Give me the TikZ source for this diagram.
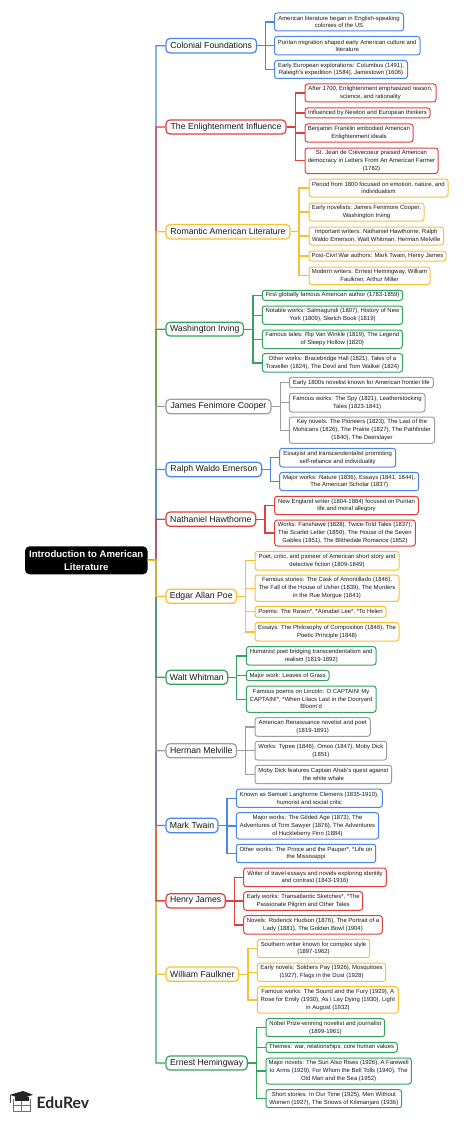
\documentclass[tikz,border=0pt]{standalone}
\usepackage{fontspec}
\setmainfont{Liberation Sans}
\newfontfamily\logofont{Lato}
\definecolor{cblue}{HTML}{4A86E8}
\definecolor{cred}{HTML}{E0403C}
\definecolor{cyel}{HTML}{FBC02D}
\definecolor{cgrn}{HTML}{34A35C}
\definecolor{cgry}{HTML}{9E9E9E}
\tikzset{
  boxbase/.style={rounded corners=2.6pt,inner sep=0pt,align=center,text=black!90,fill=white},
  leafbox/.style={boxbase,line width=1pt,font=\fontsize{5.95}{7.7}\selectfont},
  branchbox/.style={boxbase,line width=1.2pt,rounded corners=4pt,font=\fontsize{8.7}{11}\selectfont},
  rootbox/.style={rounded corners=4.5pt,inner sep=0pt,align=center,fill=black,text=white,font=\bfseries\fontsize{9.6}{12.6}\selectfont},
  link/.style={line width=1.3pt,line cap=butt,line join=miter},
}
% name x1 y1 x2 y2 colour text
\newcommand{\lfbox}[7]{\node[leafbox,draw=#6,minimum width={(#4-#2)*1pt},minimum height={(#5-#3)*1pt}] (#1) at ({(#2+#4)/2},{(#3+#5)/2}) {#7};}
\newcommand{\brbox}[7]{\node[branchbox,draw=#6,minimum width={(#4-#2)*1pt},minimum height={(#5-#3)*1pt}] (#1) at ({(#2+#4)/2},{(#3+#5)/2}) {#7};}
% parent, elbow x name, colour, children
\newcommand{\fan}[4]{\draw[link,#3] \foreach \kid in {#4} {(#1.east) -- (#2 |- #1.east) |- (\kid.west)};}
\begin{document}
\begin{tikzpicture}[x=1pt,y=-1pt]
\useasboundingbox (0,0) rectangle (474,1121);
\fill[white] (0,0) rectangle (474,1121);
% coordinates of elbows
\coordinate (spine) at (156,560);
\coordinate (xa) at (265.5,0);
\coordinate (xb) at (295.5,0);
\coordinate (xc) at (299,0);
\coordinate (xd) at (253,0);
\coordinate (xe) at (280.3,0);
\coordinate (xf) at (270.7,0);
\coordinate (xg) at (265,0);
\coordinate (xh) at (245.3,0);
\coordinate (xi) at (236.3,0);
\coordinate (xj) at (245.3,0);
\coordinate (xk) at (227,0);
\coordinate (xl) at (234.3,0);
\coordinate (xm) at (248,0);
\coordinate (xn) at (256.7,0);
% root
\node[rootbox,minimum width=122.5pt,minimum height=28pt] (root) at (86.25,560.3) {Introduction to American\\Literature};
% branches
\brbox{A}{166}{38.5}{256.5}{53}{cblue}{Colonial Foundations}
\brbox{B}{166}{120}{286}{134}{cred}{The Enlightenment Influence}
\brbox{C}{166}{224.5}{290}{239}{cyel}{Romantic American Literature}
\brbox{D}{166}{322.3}{243.5}{336}{cgrn}{Washington Irving}
\brbox{E}{166}{399.3}{271}{413.7}{cgry}{James Fenimore Cooper}
\brbox{F}{166}{462.3}{261.7}{476.7}{cblue}{Ralph Waldo Emerson}
\brbox{G}{166}{512}{255.7}{526.3}{cred}{Nathaniel Hawthorne}
\brbox{H}{166}{589.3}{236.5}{603.3}{cyel}{Edgar Allan Poe}
\brbox{I}{166}{670.3}{227.7}{684.3}{cgrn}{Walt Whitman}
\brbox{J}{166}{743.7}{236.5}{757.7}{cgry}{Herman Melville}
\brbox{K}{166}{818.3}{218}{832.7}{cblue}{Mark Twain}
\brbox{L}{166}{893.7}{225.3}{908}{cred}{Henry James}
\brbox{M}{166}{967}{238.7}{981.3}{cyel}{William Faulkner}
\brbox{N}{166}{1056}{247.3}{1070}{cgrn}{Ernest Hemingway}
% leaves
\lfbox{A1}{274.5}{13}{403.5}{31}{cblue}{American literature began in English-speaking\\colonies of the US}
\lfbox{A2}{274.5}{36.5}{420}{55}{cblue}{Puritan migration shaped early American culture and\\literature}
\lfbox{A3}{274.5}{60.5}{407.5}{78.5}{cblue}{Early European explorations: Columbus (1491),\\Raleigh's expedition (1584), Jamestown (1606)}
\lfbox{B1}{305}{84}{436}{102}{cred}{After 1700, Enlightenment emphasized reason,\\science, and rationality}
\lfbox{B2}{305}{108}{430}{118}{cred}{Influenced by Newton and European thinkers}
\lfbox{B3}{305}{124}{413}{142}{cred}{Benjamin Franklin embodied American\\Enlightenment ideals}
\lfbox{B4}{305}{148}{438}{173.5}{cred}{St. Jean de Crèvecoeur praised American\\democracy in Letters From An American Farmer\\(1782)}
\lfbox{C1}{309}{179}{448}{197}{cyel}{Period from 1800 focused on emotion, nature, and\\individualism}
\lfbox{C2}{309}{203}{424}{221}{cyel}{Early novelists: James Fenimore Cooper,\\Washington Irving}
\lfbox{C3}{309}{227}{443.5}{245}{cyel}{Important writers: Nathaniel Hawthorne, Ralph\\Waldo Emerson, Walt Whitman, Herman Melville}
\lfbox{C4}{309}{251}{446}{261}{cyel}{Post-Civil War authors: Mark Twain, Henry James}
\lfbox{C5}{309}{267}{430}{284.5}{cyel}{Modern writers: Ernest Hemingway, William\\Faulkner, Arthur Miller}
\lfbox{D1}{262.3}{290.3}{402.7}{300.3}{cgrn}{First globally famous American author (1783-1859)}
\lfbox{D2}{262.3}{306}{402.7}{324.3}{cgrn}{Notable works: Salmagundi (1807), History of New\\York (1809), Sketch Book (1819)}
\lfbox{D3}{262.3}{330}{402.3}{348.5}{cgrn}{Famous tales: Rip Van Winkle (1819), The Legend\\of Sleepy Hollow (1820)}
\lfbox{D4}{262.3}{353.7}{402.7}{372}{cgrn}{Other works: Bracebridge Hall (1821), Tales of a\\Traveller (1824), The Devil and Tom Walker (1824)}
\lfbox{E1}{289.3}{377.3}{433.3}{387.7}{cgry}{Early 1800s novelist known for American frontier life}
\lfbox{E2}{289.3}{393.3}{425}{412}{cgry}{Famous works: The Spy (1821), Leatherstocking\\Tales (1823-1841)}
\lfbox{E3}{289.3}{417}{434.7}{443.3}{cgry}{Key novels: The Pioneers (1823), The Last of the\\Mohicans (1826), The Prairie (1827), The Pathfinder\\(1840), The Deerslayer}
\lfbox{F1}{279.7}{448.3}{395.7}{467}{cblue}{Essayist and transcendentalist promoting\\self-reliance and individuality}
\lfbox{F2}{279.7}{472.3}{418.7}{490.7}{cblue}{Major works: Nature (1836), Essays (1841, 1844),\\The American Scholar (1837)}
\lfbox{G1}{274.7}{496.3}{418.3}{514.7}{cred}{New England writer (1804-1864) focused on Puritan\\life and moral allegory}
\lfbox{G2}{274.7}{520}{415.3}{546}{cred}{Works: Fanshawe (1828), Twice-Told Tales (1837),\\The Scarlet Letter (1850), The House of the Seven\\Gables (1851), The Blithedale Romance (1852)}
\lfbox{H1}{255}{551.3}{399}{570}{cyel}{Poet, critic, and pioneer of American short story and\\detective fiction (1809-1849)}
\lfbox{H2}{255}{575}{399}{601.3}{cyel}{Famous stories: The Cask of Amontillado (1846),\\The Fall of the House of Usher (1839), The Murders\\in the Rue Morgue (1841)}
\lfbox{H3}{255}{606.3}{386}{617.3}{cyel}{Poems: The Raven*, *Annabel Lee*, *To Helen}
\lfbox{H4}{255}{622.7}{399}{641}{cyel}{Essays: The Philosophy of Composition (1846), The\\Poetic Principle (1848)}
\lfbox{I1}{246.3}{646.7}{376}{665}{cgrn}{Humanist poet bridging transcendentalism and\\realism (1819-1892)}
\lfbox{I2}{246.3}{670.3}{329}{680.7}{cgrn}{Major work: Leaves of Grass}
\lfbox{I3}{246.3}{686}{376}{712.3}{cgrn}{Famous poems on Lincoln: O CAPTAIN! My\\CAPTAIN!*, *When Lilacs Last in the Dooryard\\Bloom'd}
\lfbox{J1}{255}{717.7}{370.3}{736.3}{cgry}{American Renaissance novelist and poet\\(1819-1891)}
\lfbox{J2}{255}{741.3}{386.7}{760}{cgry}{Works: Typee (1846), Omoo (1847), Moby Dick\\(1851)}
\lfbox{J3}{255}{765.3}{391.7}{783.7}{cgry}{Moby Dick features Captain Ahab's quest against\\the white whale}
\lfbox{K1}{236.3}{789}{382.3}{807.3}{cblue}{Known as Samuel Langhorne Clemens (1835-1910),\\humorist and social critic}
\lfbox{K2}{236.3}{812.7}{378.7}{839}{cblue}{Major works: The Gilded Age (1873), The\\Adventures of Tom Sawyer (1876), The Adventures\\of Huckleberry Finn (1884)}
\lfbox{K3}{236.3}{844.3}{375.7}{862.7}{cblue}{Other works: The Prince and the Pauper*, *Life on\\the Mississippi}
\lfbox{L1}{243.7}{868}{386.3}{886.7}{cred}{Writer of travel essays and novels exploring identity\\and contrast (1843-1916)}
\lfbox{L2}{243.7}{891.7}{362.7}{910.3}{cred}{Early works: Transatlantic Sketches*, *The\\Passionate Pilgrim and Other Tales}
\lfbox{L3}{243.7}{915.7}{382.3}{934}{cred}{Novels: Roderick Hudson (1876), The Portrait of a\\Lady (1881), The Golden Bowl (1904)}
\lfbox{M1}{257.3}{939.3}{369.7}{957.7}{cyel}{Southern writer known for complex style\\(1897-1962)}
\lfbox{M2}{257.3}{963}{385.7}{981.3}{cyel}{Early novels: Soldiers Pay (1926), Mosquitoes\\(1927), Flags in the Dust (1928)}
\lfbox{M3}{257.3}{986.7}{398.3}{1013}{cyel}{Famous works: The Sound and the Fury (1929), A\\Rose for Emily (1930), As I Lay Dying (1930), Light\\in August (1932)}
\lfbox{N1}{266}{1018.7}{384.7}{1036.7}{cgrn}{Nobel Prize-winning novelist and journalist\\(1899-1961)}
\lfbox{N2}{266}{1042.3}{397.3}{1052.3}{cgrn}{Themes: war, relationships, core human values}
\lfbox{N3}{266}{1058}{411.3}{1084}{cgrn}{Major novels: The Sun Also Rises (1926), A Farewell\\to Arms (1929), For Whom the Bell Tolls (1940), The\\Old Man and the Sea (1952)}
\lfbox{N4}{266}{1089.7}{401.7}{1107.7}{cgrn}{Short stories: In Our Time (1925), Men Without\\Women (1927), The Snows of Kilimanjaro (1936)}
% connectors
\foreach \p/\c in {A/cblue,B/cred,C/cyel,D/cgrn,E/cgry,F/cblue,G/cred,N/cgrn,M/cyel,L/cred,K/cblue,J/cgry,I/cgrn,H/cyel}{
  \draw[link,\c] (root.east) -- (spine) |- (\p.west);
}
\fan{A}{xa}{cblue}{A1,A2,A3}
\fan{B}{xb}{cred}{B1,B2,B3,B4}
\fan{C}{xc}{cyel}{C1,C2,C3,C4,C5}
\fan{D}{xd}{cgrn}{D1,D2,D3,D4}
\fan{E}{xe}{cgry}{E1,E2,E3}
\fan{F}{xf}{cblue}{F1,F2}
\fan{G}{xg}{cred}{G1,G2}
\fan{H}{xh}{cyel}{H1,H2,H3,H4}
\fan{I}{xi}{cgrn}{I1,I2,I3}
\fan{J}{xj}{cgry}{J1,J2,J3}
\fan{K}{xk}{cblue}{K1,K2,K3}
\fan{L}{xl}{cred}{L1,L2,L3}
\fan{M}{xm}{cyel}{M1,M2,M3}
\fan{N}{xn}{cgrn}{N1,N2,N3,N4}
% logo
\draw[black!55,line width=0.7pt,fill=white] (13.5,1098.5) -- (13.5,1111.5) -- (30,1111.5) -- (30,1098.5) (13.5,1105.5) -- (30,1105.5) (21.7,1099) -- (21.7,1111.5);
\fill[black!85] (14.5,1097) -- (14.5,1101) -- (28.5,1101) -- (28.5,1097) -- cycle;
\fill[black!85] (10,1094.8) -- (23,1091) -- (33,1094.8) -- (21,1098.8) -- cycle;
\draw[black!70,line width=0.6pt] (10.5,1095) -- (10.5,1103);
\node[anchor=base west,inner sep=0pt,font=\logofont\bfseries\fontsize{15.7}{16}\selectfont,text=black!85] (logo) at (36.5,1108) {EduRev};
\end{tikzpicture}
\end{document}
